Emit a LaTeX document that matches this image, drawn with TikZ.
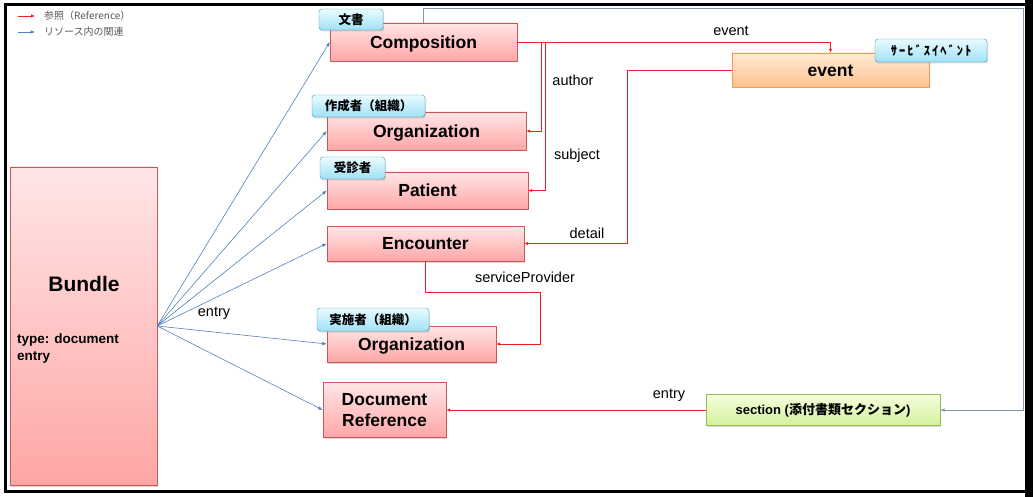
\documentclass[tikz,border=0pt]{standalone}
\usepackage{fontspec}
\setmainfont{Liberation Sans}
\newfontfamily\jp{Noto Sans CJK JP}
\usetikzlibrary{arrows.meta,shadows}
\definecolor{pinktop}{HTML}{FFE6E6}
\definecolor{pinkbot}{HTML}{FFA6A6}
\definecolor{pinkline}{HTML}{C85858}
\definecolor{tabtop}{HTML}{EAFBFF}
\definecolor{tabbot}{HTML}{9FE1F6}
\definecolor{tabline}{HTML}{3E9CBA}
\definecolor{ortop}{HTML}{FFEBD6}
\definecolor{orbot}{HTML}{FFC28E}
\definecolor{orline}{HTML}{F39A50}
\definecolor{grtop}{HTML}{F6FFDC}
\definecolor{grbot}{HTML}{D3F09E}
\definecolor{grline}{HTML}{9BBB59}
\definecolor{refred}{HTML}{F02020}
\definecolor{relblue}{HTML}{4F81BD}
\definecolor{relgray}{HTML}{8496B0}
\tikzset{
  shad/.style={drop shadow={shadow xshift=1pt,shadow yshift=-1.5pt,opacity=.3,fill=gray}},
  resbox/.style={draw=pinkline, top color=pinktop, bottom color=pinkbot, shad,
    font=\bfseries\fontsize{17.5}{21}\selectfont, inner sep=0pt, align=center},
  oneline/.style={text height=12.5pt, text depth=0pt},
  tabbox/.style={draw=tabline, rounded corners=3pt, top color=tabtop, bottom color=tabbot, shad,
    font=\jp\bfseries\fontsize{12.5}{14}\selectfont, inner sep=0pt},
  lbl/.style={font=\fontsize{14.5}{16}\selectfont, inner sep=1pt},
  ref/.style={draw=refred, line width=0.8pt, -{Latex[length=4pt,width=3.5pt]}},
  rel/.style={draw=relblue, line width=0.6pt, -{Latex[length=4.5pt,width=3.5pt]}},
}
\begin{document}
\begin{tikzpicture}[x=1pt,y=-1pt]
\useasboundingbox (0,0) rectangle (1033,497);
% frame
\draw[line width=3pt] (5.5,4.5) rectangle (1027,491);
\fill (1025,0) rectangle (1033,497);
% legend
\coordinate (lr1) at (18,16); \coordinate (lr2) at (35,16);
\coordinate (lb1) at (18,32); \coordinate (lb2) at (35,32);
\draw[ref, line width=0.7pt] (lr1) -- (lr2);
\draw[rel] (lb1) -- (lb2);
\node[anchor=west, inner sep=0pt, text=black!65, font=\jp\fontsize{10}{11}\selectfont] (legref) at (44,16) {参照（Reference）};
\node[anchor=west, inner sep=0pt, text=black!65, font=\jp\fontsize{10}{11}\selectfont] (legrel) at (44,32) {リソース内の関連};
% Bundle
\node[resbox, minimum width=147pt, minimum height=318pt] (bundle) at (83.5,326) {};
\node[font=\bfseries\fontsize{21}{24}\selectfont, inner sep=0pt] (bundlet) at (84,284) {Bundle};
\node[anchor=west, align=left, font=\bfseries\fontsize{13.5}{17}\selectfont, inner sep=0pt] (bundlea) at (17,348.5) {type: document\\entry};
% resources
\node[resbox, oneline, minimum width=187pt, minimum height=38pt] (comp) at (423.5,42) {Composition};
\node[resbox, oneline, minimum width=199pt, minimum height=38pt] (org1) at (426.5,131) {Organization};
\node[resbox, oneline, minimum width=201pt, minimum height=37pt] (pat) at (427.5,190.5) {Patient};
\node[resbox, oneline, minimum width=197pt, minimum height=35pt] (enc) at (425.5,243.5) {Encounter};
\node[resbox, oneline, minimum width=169pt, minimum height=36pt] (org2) at (411.5,344) {Organization};
\node[resbox, minimum width=123pt, minimum height=55pt] (docref) at (384.5,410) {Document\\Reference};
\node[draw=orline, top color=ortop, bottom color=orbot, shad, font=\bfseries\fontsize{17.5}{20}\selectfont,
  oneline, inner sep=0pt, minimum width=197pt, minimum height=34pt] (event) at (830.5,70) {event};
\node[draw=grline, top color=grtop, bottom color=grbot, shad, font=\bfseries\fontsize{13}{15}\selectfont,
  inner sep=0pt, minimum width=234pt, minimum height=31pt] (section) at (823,410)
  {section ({\jp\bfseries 添付書類セクション})};
% tabs
\node[tabbox, minimum width=64pt, minimum height=21pt] (tcomp) at (351,19.5) {文書};
\node[tabbox, minimum width=113pt, minimum height=22pt] (torg1) at (368.5,106) {作成者（組織）};
\node[tabbox, minimum width=65pt, minimum height=22pt] (tpat) at (352.5,168) {受診者};
\node[tabbox, minimum width=112pt, minimum height=23pt] (torg2) at (373,319.5) {実施者（組織）};
\node[tabbox, minimum width=112pt, minimum height=23pt] (tevent) at (931,50.5) {\addfontfeature{LetterSpace=16}ｻｰﾋﾞｽｲﾍﾞﾝﾄ};
% blue relations
\draw[rel] (bundle.east) -- (comp.west);
\draw[rel] (bundle.east) -- (org1.west);
\draw[rel] (bundle.east) -- (pat.west);
\draw[rel] (bundle.east) -- (enc.west);
\draw[rel] (bundle.east) -- (org2.west);
\draw[rel] (bundle.east) -- (docref.west);
\node[lbl] (lentry1) at (214,313) {entry};
\coordinate (gtop) at (1023,8);
\draw[rel, draw=relgray] (comp.north) |- (gtop) |- (section.east);
% red references
\draw[ref] (comp.east) -| (event.north);
\node[lbl] (levent) at (731,31) {event};
\draw[ref] (comp.east) -- ++(24,0) |- (org1.east);
\node[lbl] (lauthor) at (573,80) {author};
\draw[ref] (comp.east) -- ++(28,0) |- (pat.east);
\node[lbl] (lsubject) at (577,156) {subject};
\draw[ref] (event.west) -- ++(-104,0) |- (enc.east);
\node[lbl] (ldetail) at (587,233) {detail};
\coordinate (sp) at (540,292);
\draw[ref] (enc.south) |- (sp) |- (org2.east);
\node[lbl] (lsp) at (525,277) {serviceProvider};
\draw[ref] (section.west) -- (section.west -| docref.east);
\node[lbl] (lentry2) at (669,395) {entry};
\end{tikzpicture}
\end{document}
